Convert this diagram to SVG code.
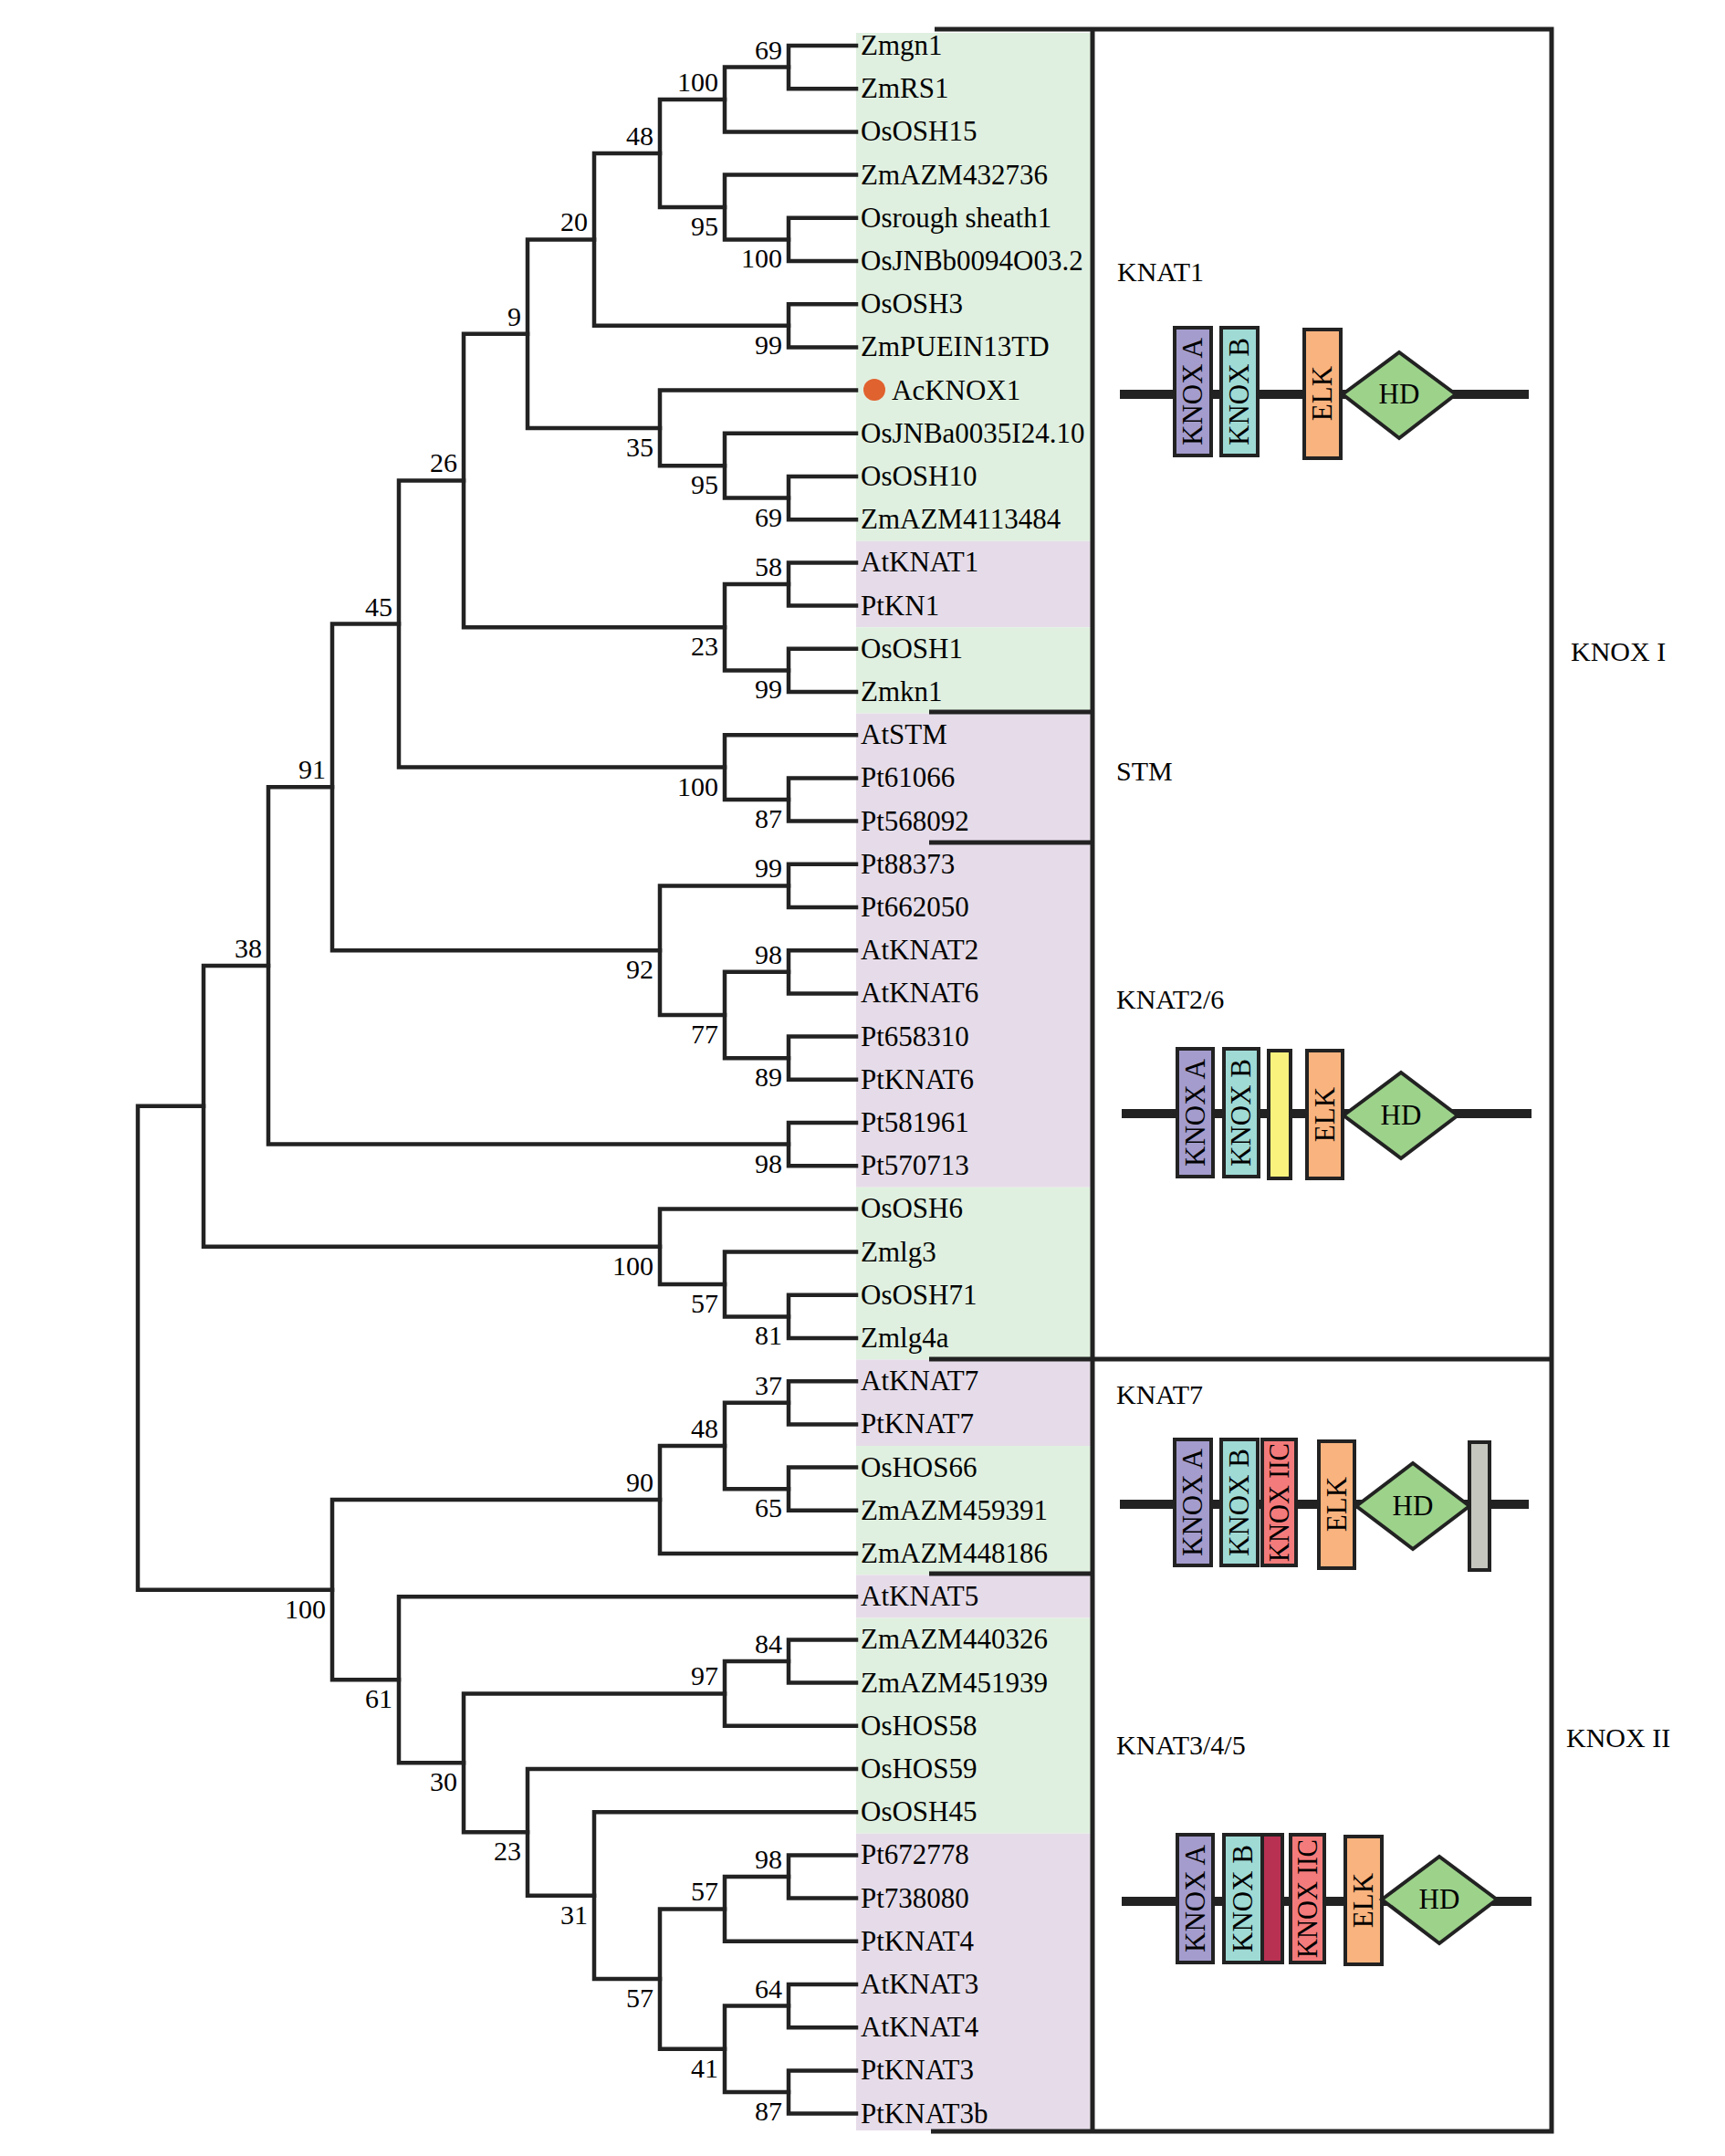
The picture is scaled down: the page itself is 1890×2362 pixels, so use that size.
<svg xmlns="http://www.w3.org/2000/svg" width="1890" height="2362" viewBox="0 0 1890 2362">
<style>
.br{fill:none;stroke:#222;stroke-width:4.5;stroke-linejoin:miter;stroke-linecap:square}
.lf{font-family:"Liberation Serif",serif;font-size:31px;fill:#000}
.bs{font-family:"Liberation Serif",serif;font-size:30px;fill:#000;text-anchor:end}
.grp{font-family:"Liberation Serif",serif;font-size:30px;fill:#000}
.fr{fill:none;stroke:#222;stroke-width:5}
.bb{stroke:#222;stroke-width:10}
.bx{stroke:#222;stroke-width:4}
.dt{font-family:"Liberation Serif",serif;font-size:31px;fill:#000;text-anchor:middle}
.g{fill:#e0f0e0}
.p{fill:#e6dce9}
</style>
<rect width="1890" height="2362" fill="#fff"/>
<g id="bands">
<rect class="g" x="938" y="36" width="257" height="556.8"/>
<rect class="p" x="938" y="592.8" width="257" height="94.4"/>
<rect class="g" x="938" y="687.2" width="257" height="94.4"/>
<rect class="p" x="938" y="781.6" width="257" height="519.2"/>
<rect class="g" x="938" y="1300.8" width="257" height="188.8"/>
<rect class="p" x="938" y="1489.6" width="257" height="94.4"/>
<rect class="g" x="938" y="1584" width="257" height="141.4"/>
<rect class="p" x="938" y="1725.4" width="257" height="47.2"/>
<rect class="g" x="938" y="1772.6" width="257" height="236.2"/>
<rect class="p" x="938" y="2008.8" width="257" height="325.2"/>
</g>
<g id="connectors">
<path class="br" d="M938 50 H864 V97.2 H938"/>
<path class="br" d="M864 73.6 H794 V144.4 H938"/>
<path class="br" d="M938 238.8 H864 V286 H938"/>
<path class="br" d="M938 191.6 H794 V262.4 H864"/>
<path class="br" d="M794 109 H723 V227 H794"/>
<path class="br" d="M938 333.2 H864 V380.4 H938"/>
<path class="br" d="M723 168 H651 V356.8 H864"/>
<path class="br" d="M938 522 H864 V569.2 H938"/>
<path class="br" d="M938 474.8 H794 V545.6 H864"/>
<path class="br" d="M938 427.6 H723 V510.2 H794"/>
<path class="br" d="M651 262.4 H578 V468.9 H723"/>
<path class="br" d="M938 616.4 H864 V663.6 H938"/>
<path class="br" d="M938 710.8 H864 V758 H938"/>
<path class="br" d="M864 640 H794 V734.4 H864"/>
<path class="br" d="M578 365.65 H508 V687.2 H794"/>
<path class="br" d="M938 852.4 H864 V899.6 H938"/>
<path class="br" d="M938 805.2 H794 V876 H864"/>
<path class="br" d="M508 526.4 H437 V840.6 H794"/>
<path class="br" d="M938 946.8 H864 V994 H938"/>
<path class="br" d="M938 1041.2 H864 V1088.4 H938"/>
<path class="br" d="M938 1135.6 H864 V1182.8 H938"/>
<path class="br" d="M864 1064.8 H794 V1159.2 H864"/>
<path class="br" d="M864 970.4 H723 V1112 H794"/>
<path class="br" d="M437 683.5 H364 V1041.2 H723"/>
<path class="br" d="M938 1230 H864 V1277.2 H938"/>
<path class="br" d="M364 862.35 H294 V1253.6 H864"/>
<path class="br" d="M938 1418.8 H864 V1466 H938"/>
<path class="br" d="M938 1371.6 H794 V1442.4 H864"/>
<path class="br" d="M938 1324.4 H723 V1407 H794"/>
<path class="br" d="M294 1058 H223 V1365.7 H723"/>
<path class="br" d="M938 1513.2 H864 V1560.4 H938"/>
<path class="br" d="M938 1607.6 H864 V1654.8 H938"/>
<path class="br" d="M864 1536.8 H794 V1631.2 H864"/>
<path class="br" d="M794 1584 H723 V1702 H938"/>
<path class="br" d="M938 1796.4 H864 V1843.6 H938"/>
<path class="br" d="M864 1820 H794 V1890.8 H938"/>
<path class="br" d="M938 2032.4 H864 V2079.6 H938"/>
<path class="br" d="M864 2056 H794 V2126.8 H938"/>
<path class="br" d="M938 2174 H864 V2221.2 H938"/>
<path class="br" d="M938 2268.4 H864 V2315.6 H938"/>
<path class="br" d="M864 2197.6 H794 V2292 H864"/>
<path class="br" d="M794 2091.4 H723 V2244.8 H794"/>
<path class="br" d="M938 1985.2 H651 V2168.1 H723"/>
<path class="br" d="M938 1938 H578 V2076.65 H651"/>
<path class="br" d="M794 1855.4 H508 V2007.3 H578"/>
<path class="br" d="M938 1749.2 H437 V1931.35 H508"/>
<path class="br" d="M723 1643 H364 V1840.3 H437"/>
<path class="br" d="M223 1211.85 H151 V1741.65 H364"/>
</g>
<g id="bootstrap">
<text class="bs" x="857" y="64.6">69</text>
<text class="bs" x="787" y="100">100</text>
<text class="bs" x="857" y="293.4">100</text>
<text class="bs" x="787" y="258">95</text>
<text class="bs" x="716" y="159">48</text>
<text class="bs" x="857" y="387.8">99</text>
<text class="bs" x="644" y="253.4">20</text>
<text class="bs" x="857" y="576.6">69</text>
<text class="bs" x="787" y="541.2">95</text>
<text class="bs" x="716" y="499.9">35</text>
<text class="bs" x="571" y="356.65">9</text>
<text class="bs" x="857" y="631">58</text>
<text class="bs" x="857" y="765.4">99</text>
<text class="bs" x="787" y="718.2">23</text>
<text class="bs" x="501" y="517.4">26</text>
<text class="bs" x="857" y="907">87</text>
<text class="bs" x="787" y="871.6">100</text>
<text class="bs" x="430" y="674.5">45</text>
<text class="bs" x="857" y="961.4">99</text>
<text class="bs" x="857" y="1055.8">98</text>
<text class="bs" x="857" y="1190.2">89</text>
<text class="bs" x="787" y="1143">77</text>
<text class="bs" x="716" y="1072.2">92</text>
<text class="bs" x="357" y="853.35">91</text>
<text class="bs" x="857" y="1284.6">98</text>
<text class="bs" x="287" y="1049">38</text>
<text class="bs" x="857" y="1473.4">81</text>
<text class="bs" x="787" y="1438">57</text>
<text class="bs" x="716" y="1396.7">100</text>
<text class="bs" x="857" y="1527.8">37</text>
<text class="bs" x="857" y="1662.2">65</text>
<text class="bs" x="787" y="1575">48</text>
<text class="bs" x="716" y="1634">90</text>
<text class="bs" x="857" y="1811">84</text>
<text class="bs" x="787" y="1846.4">97</text>
<text class="bs" x="857" y="2047">98</text>
<text class="bs" x="787" y="2082.4">57</text>
<text class="bs" x="857" y="2188.6">64</text>
<text class="bs" x="857" y="2323">87</text>
<text class="bs" x="787" y="2275.8">41</text>
<text class="bs" x="716" y="2199.1">57</text>
<text class="bs" x="644" y="2107.65">31</text>
<text class="bs" x="571" y="2038.3">23</text>
<text class="bs" x="501" y="1962.35">30</text>
<text class="bs" x="430" y="1871.3">61</text>
<text class="bs" x="357" y="1772.65">100</text>
</g>
<g id="leaves">
<g id="leaf-Zmgn1"><text class="lf" x="943" y="60">Zmgn1</text></g>
<g id="leaf-ZmRS1"><text class="lf" x="943" y="107.2">ZmRS1</text></g>
<g id="leaf-OsOSH15"><text class="lf" x="943" y="154.4">OsOSH15</text></g>
<g id="leaf-ZmAZM432736"><text class="lf" x="943" y="201.6">ZmAZM432736</text></g>
<g id="leaf-Osrough"><text class="lf" x="943" y="248.8">Osrough sheath1</text></g>
<g id="leaf-OsJNBb"><text class="lf" x="943" y="296">OsJNBb0094O03.2</text></g>
<g id="leaf-OsOSH3"><text class="lf" x="943" y="343.2">OsOSH3</text></g>
<g id="leaf-ZmPUEIN13TD"><text class="lf" x="943" y="390.4">ZmPUEIN13TD</text></g>
<g id="leaf-AcKNOX1"><circle cx="958" cy="427" r="12" fill="#e0622f"/><text class="lf" x="977" y="437.6">AcKNOX1</text></g>
<g id="leaf-OsJNBa"><text class="lf" x="943" y="484.8">OsJNBa0035I24.10</text></g>
<g id="leaf-OsOSH10"><text class="lf" x="943" y="532">OsOSH10</text></g>
<g id="leaf-ZmAZM4113484"><text class="lf" x="943" y="579.2">ZmAZM4113484</text></g>
<g id="leaf-AtKNAT1"><text class="lf" x="943" y="626.4">AtKNAT1</text></g>
<g id="leaf-PtKN1"><text class="lf" x="943" y="673.6">PtKN1</text></g>
<g id="leaf-OsOSH1"><text class="lf" x="943" y="720.8">OsOSH1</text></g>
<g id="leaf-Zmkn1"><text class="lf" x="943" y="768">Zmkn1</text></g>
<g id="leaf-AtSTM"><text class="lf" x="943" y="815.2">AtSTM</text></g>
<g id="leaf-Pt61066"><text class="lf" x="943" y="862.4">Pt61066</text></g>
<g id="leaf-Pt568092"><text class="lf" x="943" y="909.6">Pt568092</text></g>
<g id="leaf-Pt88373"><text class="lf" x="943" y="956.8">Pt88373</text></g>
<g id="leaf-Pt662050"><text class="lf" x="943" y="1004">Pt662050</text></g>
<g id="leaf-AtKNAT2"><text class="lf" x="943" y="1051.2">AtKNAT2</text></g>
<g id="leaf-AtKNAT6"><text class="lf" x="943" y="1098.4">AtKNAT6</text></g>
<g id="leaf-Pt658310"><text class="lf" x="943" y="1145.6">Pt658310</text></g>
<g id="leaf-PtKNAT6"><text class="lf" x="943" y="1192.8">PtKNAT6</text></g>
<g id="leaf-Pt581961"><text class="lf" x="943" y="1240">Pt581961</text></g>
<g id="leaf-Pt570713"><text class="lf" x="943" y="1287.2">Pt570713</text></g>
<g id="leaf-OsOSH6"><text class="lf" x="943" y="1334.4">OsOSH6</text></g>
<g id="leaf-Zmlg3"><text class="lf" x="943" y="1381.6">Zmlg3</text></g>
<g id="leaf-OsOSH71"><text class="lf" x="943" y="1428.8">OsOSH71</text></g>
<g id="leaf-Zmlg4a"><text class="lf" x="943" y="1476">Zmlg4a</text></g>
<g id="leaf-AtKNAT7"><text class="lf" x="943" y="1523.2">AtKNAT7</text></g>
<g id="leaf-PtKNAT7"><text class="lf" x="943" y="1570.4">PtKNAT7</text></g>
<g id="leaf-OsHOS66"><text class="lf" x="943" y="1617.6">OsHOS66</text></g>
<g id="leaf-ZmAZM459391"><text class="lf" x="943" y="1664.8">ZmAZM459391</text></g>
<g id="leaf-ZmAZM448186"><text class="lf" x="943" y="1712">ZmAZM448186</text></g>
<g id="leaf-AtKNAT5"><text class="lf" x="943" y="1759.2">AtKNAT5</text></g>
<g id="leaf-ZmAZM440326"><text class="lf" x="943" y="1806.4">ZmAZM440326</text></g>
<g id="leaf-ZmAZM451939"><text class="lf" x="943" y="1853.6">ZmAZM451939</text></g>
<g id="leaf-OsHOS58"><text class="lf" x="943" y="1900.8">OsHOS58</text></g>
<g id="leaf-OsHOS59"><text class="lf" x="943" y="1948">OsHOS59</text></g>
<g id="leaf-OsOSH45"><text class="lf" x="943" y="1995.2">OsOSH45</text></g>
<g id="leaf-Pt672778"><text class="lf" x="943" y="2042.4">Pt672778</text></g>
<g id="leaf-Pt738080"><text class="lf" x="943" y="2089.6">Pt738080</text></g>
<g id="leaf-PtKNAT4"><text class="lf" x="943" y="2136.8">PtKNAT4</text></g>
<g id="leaf-AtKNAT3"><text class="lf" x="943" y="2184">AtKNAT3</text></g>
<g id="leaf-AtKNAT4"><text class="lf" x="943" y="2231.2">AtKNAT4</text></g>
<g id="leaf-PtKNAT3"><text class="lf" x="943" y="2278.4">PtKNAT3</text></g>
<g id="leaf-PtKNAT3b"><text class="lf" x="943" y="2325.6">PtKNAT3b</text></g>
</g>
<g id="frame">
<path class="fr" d="M1024 32 H1700 V2335 H1020"/>
<path class="fr" d="M1197 32 V2335"/>
<path class="fr" d="M1018 780 H1197"/>
<path class="fr" d="M1018 923 H1197"/>
<path class="fr" d="M1018 1489 H1700"/>
<path class="fr" d="M1018 1724 H1197"/>
</g>
<g id="group-labels">
<text class="grp" x="1224" y="308">KNAT1</text>
<text class="grp" x="1223" y="855">STM</text>
<text class="grp" x="1223" y="1105">KNAT2/6</text>
<text class="grp" x="1223" y="1538">KNAT7</text>
<text class="grp" x="1223" y="1922">KNAT3/4/5</text>
<text class="grp" x="1721" y="724">KNOX I</text>
<text class="grp" x="1716" y="1914">KNOX II</text>
</g>
<g id="domain-KNAT1">
<line class="bb" x1="1227" y1="432" x2="1675" y2="432"/>
<rect class="bx" x="1287" y="359" width="40" height="140" fill="#a39ccc"/>
<rect class="bx" x="1338" y="359" width="40" height="140" fill="#9fdad5"/>
<rect class="bx" x="1429" y="361" width="40" height="141" fill="#f9b37e"/>
<polygon class="bx" points="1471,432 1533,386 1595,432 1533,480" fill="#9dd28b"/>
<text class="dt" x="1307" y="439" transform="rotate(-90 1307 429)">KNOX A</text>
<text class="dt" x="1358" y="439" transform="rotate(-90 1358 429)">KNOX B</text>
<text class="dt" x="1449" y="441" transform="rotate(-90 1449 431)">ELK</text>
<text class="dt" x="1533" y="442">HD</text>
</g>
<g id="domain-KNAT26">
<line class="bb" x1="1229" y1="1220" x2="1678" y2="1220"/>
<rect class="bx" x="1290" y="1149" width="39" height="140" fill="#a39ccc"/>
<rect class="bx" x="1341" y="1149" width="38" height="140" fill="#9fdad5"/>
<rect class="bx" x="1390" y="1151" width="24" height="140" fill="#f9f27d"/>
<rect class="bx" x="1432" y="1151" width="39" height="140" fill="#f9b37e"/>
<polygon class="bx" points="1472,1222 1535,1175 1597,1222 1535,1269" fill="#9dd28b"/>
<text class="dt" x="1309.5" y="1229" transform="rotate(-90 1309.5 1219)">KNOX A</text>
<text class="dt" x="1360" y="1229" transform="rotate(-90 1360 1219)">KNOX B</text>
<text class="dt" x="1451.5" y="1231" transform="rotate(-90 1451.5 1221)">ELK</text>
<text class="dt" x="1535" y="1232">HD</text>
</g>
<g id="domain-KNAT7">
<line class="bb" x1="1227" y1="1648" x2="1675" y2="1648"/>
<rect class="bx" x="1287" y="1577" width="40" height="138" fill="#a39ccc"/>
<rect class="bx" x="1338" y="1577" width="40" height="138" fill="#9fdad5"/>
<rect class="bx" x="1383" y="1577" width="37" height="138" fill="#f47b7b"/>
<rect class="bx" x="1445" y="1579" width="39" height="139" fill="#f9b37e"/>
<polygon class="bx" points="1486,1650 1548,1603 1610,1650 1548,1697" fill="#9dd28b"/>
<rect class="bx" x="1610" y="1580" width="22" height="140" fill="#c5c6be"/>
<text class="dt" x="1307" y="1656" transform="rotate(-90 1307 1646)">KNOX A</text>
<text class="dt" x="1358" y="1656" transform="rotate(-90 1358 1646)">KNOX B</text>
<text class="dt" x="1401.5" y="1656" transform="rotate(-90 1401.5 1646)" textLength="130" lengthAdjust="spacingAndGlyphs">KNOX IIC</text>
<text class="dt" x="1464.5" y="1658" transform="rotate(-90 1464.5 1648)">ELK</text>
<text class="dt" x="1548" y="1660">HD</text>
</g>
<g id="domain-KNAT345">
<line class="bb" x1="1229" y1="2083" x2="1678" y2="2083"/>
<rect class="bx" x="1290" y="2010" width="39" height="140" fill="#a39ccc"/>
<rect class="bx" x="1341" y="2010" width="42" height="140" fill="#9fdad5"/>
<rect class="bx" x="1383" y="2010" width="22" height="140" fill="#b83152"/>
<rect class="bx" x="1414" y="2010" width="37" height="140" fill="#f47b7b"/>
<rect class="bx" x="1474" y="2012" width="40" height="140" fill="#f9b37e"/>
<polygon class="bx" points="1514,2081 1577,2034 1640,2081 1577,2129" fill="#9dd28b"/>
<text class="dt" x="1309.5" y="2090" transform="rotate(-90 1309.5 2080)">KNOX A</text>
<text class="dt" x="1362" y="2090" transform="rotate(-90 1362 2080)">KNOX B</text>
<text class="dt" x="1432.5" y="2090" transform="rotate(-90 1432.5 2080)" textLength="130" lengthAdjust="spacingAndGlyphs">KNOX IIC</text>
<text class="dt" x="1494" y="2092" transform="rotate(-90 1494 2082)">ELK</text>
<text class="dt" x="1577" y="2091">HD</text>
</g>
</svg>
